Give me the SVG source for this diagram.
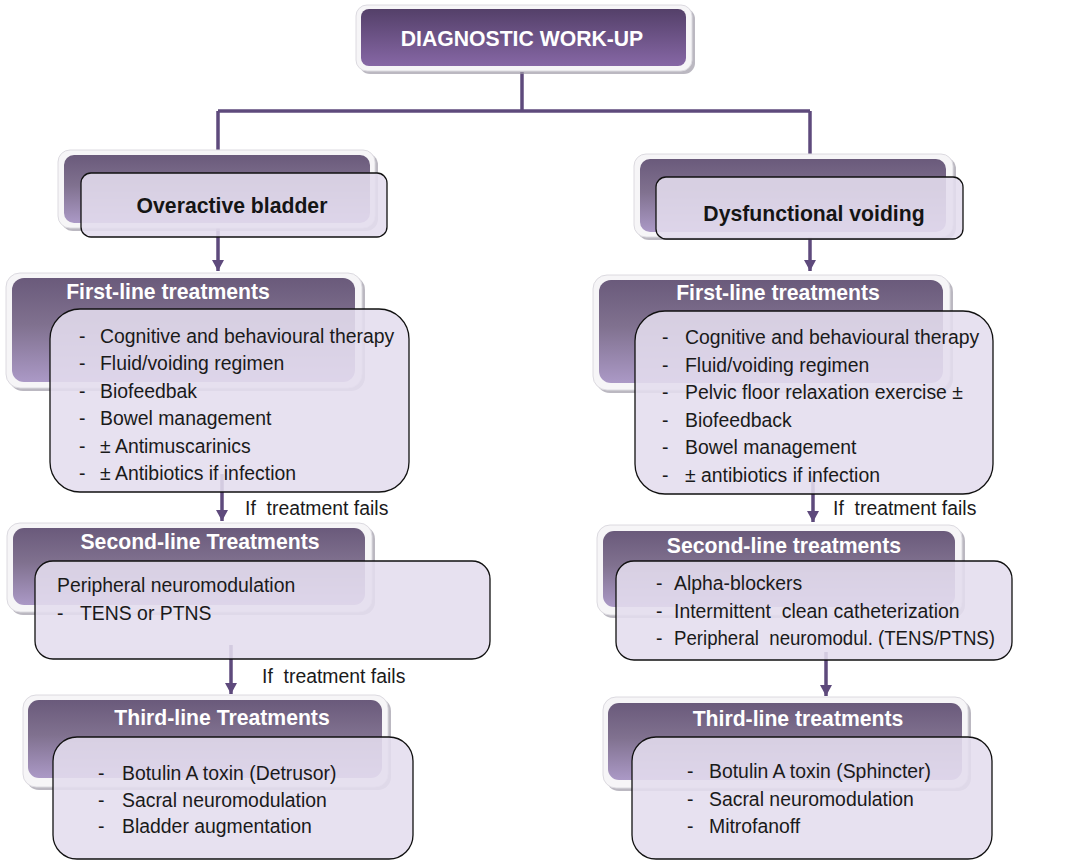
<svg xmlns="http://www.w3.org/2000/svg" width="1066" height="861" viewBox="0 0 1066 861">
  <style>
    .frame { fill: #f6f5f7; stroke: #dcdae0; stroke-width: 1; }
    .shadow { fill: #9e9aa6; opacity: 0.7; }
    .back { fill: url(#backGrad); }
    .top { fill: url(#topGrad); }
    .front { fill: #e4ddee; fill-opacity: 0.88; stroke: #111; stroke-width: 1.3; }
    .hdr { font-family: "Liberation Sans", Arial, sans-serif; font-weight: bold; font-size: 21.2px; fill: #ffffff; text-anchor: middle; }
    .title { font-family: "Liberation Sans", Arial, sans-serif; font-weight: bold; font-size: 21.2px; fill: #151515; text-anchor: middle; }
    .txt { font-family: "Liberation Sans", Arial, sans-serif; font-size: 19.4px; fill: #1a1a1a; white-space: pre; }
    .wire { fill: none; stroke: #5e4a7c; stroke-width: 3.5; }
    .arrow { fill: none; stroke: #5e4a7c; stroke-width: 3.5; marker-end: url(#head); }
  </style>
  <defs>
    <linearGradient id="backGrad" x1="0" y1="0" x2="0" y2="1">
      <stop offset="0" stop-color="#6a5a7b"/>
      <stop offset="0.45" stop-color="#80718f"/>
      <stop offset="1" stop-color="#ab99c6"/>
    </linearGradient>
    <linearGradient id="topGrad" x1="0" y1="0" x2="0" y2="1">
      <stop offset="0" stop-color="#544069"/>
      <stop offset="1" stop-color="#8667a5"/>
    </linearGradient>
    <marker id="head" markerUnits="userSpaceOnUse" markerWidth="12" markerHeight="12" refX="11" refY="6" orient="auto">
      <path d="M0,0 L11,6 L0,12 z" fill="#5e4a7c"/>
    </marker>
  </defs>

  <rect width="1066" height="861" fill="#ffffff"/>

  <!-- connectors -->
  <g id="connectors">
    <path class="wire" d="M522,72 V111"/>
    <path class="wire" d="M218,111 H810"/>
    <path class="wire" d="M218,111 V157"/>
    <path class="wire" d="M810,111 V157"/>
    <path class="arrow" d="M218,228 V271"/>
    <path class="arrow" d="M222,474 V521"/>
    <path class="arrow" d="M231,645 V694"/>
    <path class="arrow" d="M810,230 V271"/>
    <path class="arrow" d="M813,476 V522"/>
    <path class="arrow" d="M826,652 V696"/>
    <text class="txt" x="245" y="515">If  treatment fails</text>
    <text class="txt" x="262" y="683">If  treatment fails</text>
    <text class="txt" x="833" y="515">If  treatment fails</text>
  </g>

  <!-- root node -->
  <g id="diagnostic">
    <rect class="shadow" x="359" y="8" width="336" height="66" rx="11"/>
    <rect class="frame" x="356" y="5" width="336" height="66" rx="11"/>
    <rect class="top" x="361" y="9" width="325" height="57" rx="8"/>
    <text class="hdr" x="522" y="46">DIAGNOSTIC WORK-UP</text>
  </g>

  <!-- left branch -->
  <g id="overactive">
    <rect class="shadow" x="61" y="153" width="317" height="78" rx="12"/>
    <rect class="frame" x="58" y="150" width="317" height="78" rx="12"/>
    <rect class="back" x="64" y="155" width="306" height="68" rx="10"/>
    <rect class="front" x="81" y="173" width="306" height="64" rx="10"/>
    <text class="title" x="232" y="213">Overactive bladder</text>
  </g>

  <g id="first-line-left">
    <rect class="shadow" x="9" y="276" width="356" height="115" rx="14"/>
    <rect class="frame" x="6" y="273" width="356" height="115" rx="14"/>
    <rect class="back" x="12" y="278" width="343" height="104" rx="12"/>
    <text class="hdr" x="168" y="299">First-line treatments</text>
    <rect class="front" x="50" y="309" width="359" height="183" rx="30"/>
    <text class="txt" y="343"><tspan x="79">-</tspan><tspan x="100">Cognitive and behavioural therapy</tspan></text>
    <text class="txt" y="370"><tspan x="79">-</tspan><tspan x="100">Fluid/voiding regimen</tspan></text>
    <text class="txt" y="398"><tspan x="79">-</tspan><tspan x="100">Biofeedbak</tspan></text>
    <text class="txt" y="425"><tspan x="79">-</tspan><tspan x="100">Bowel management</tspan></text>
    <text class="txt" y="453"><tspan x="79">-</tspan><tspan x="100">± Antimuscarinics</tspan></text>
    <text class="txt" y="480"><tspan x="79">-</tspan><tspan x="100">± Antibiotics if infection</tspan></text>
  </g>

  <g id="second-line-left">
    <rect class="shadow" x="10" y="526" width="365" height="89" rx="13"/>
    <rect class="frame" x="7" y="523" width="365" height="89" rx="13"/>
    <rect class="back" x="13" y="528" width="352" height="77" rx="11"/>
    <text class="hdr" x="200" y="549">Second-line Treatments</text>
    <rect class="front" x="35" y="561" width="455" height="98" rx="18"/>
    <text class="txt" x="57" y="592">Peripheral neuromodulation</text>
    <text class="txt" y="620"><tspan x="57">-</tspan><tspan x="80">TENS or PTNS</tspan></text>
  </g>

  <g id="third-line-left">
    <rect class="shadow" x="26" y="698" width="365" height="92" rx="13"/>
    <rect class="frame" x="23" y="695" width="365" height="92" rx="13"/>
    <rect class="back" x="28" y="700" width="354" height="78" rx="11"/>
    <text class="hdr" x="222" y="725">Third-line Treatments</text>
    <rect class="front" x="53" y="737" width="360" height="122" rx="24"/>
    <text class="txt" y="780"><tspan x="98">-</tspan><tspan x="122">Botulin A toxin (Detrusor)</tspan></text>
    <text class="txt" y="807"><tspan x="98">-</tspan><tspan x="122">Sacral neuromodulation</tspan></text>
    <text class="txt" y="833"><tspan x="98">-</tspan><tspan x="122">Bladder augmentation</tspan></text>
  </g>

  <!-- right branch -->
  <g id="dysfunctional">
    <rect class="shadow" x="637" y="157" width="319" height="83" rx="12"/>
    <rect class="frame" x="634" y="154" width="319" height="83" rx="12"/>
    <rect class="back" x="640" y="159" width="306" height="73" rx="10"/>
    <rect class="front" x="656" y="177" width="307" height="62" rx="10"/>
    <text class="title" x="814" y="221">Dysfunctional voiding</text>
  </g>

  <g id="first-line-right">
    <rect class="shadow" x="596" y="278" width="357" height="115" rx="14"/>
    <rect class="frame" x="593" y="275" width="357" height="115" rx="14"/>
    <rect class="back" x="599" y="280" width="344" height="103" rx="12"/>
    <text class="hdr" x="778" y="300">First-line treatments</text>
    <rect class="front" x="635" y="311" width="358" height="183" rx="30"/>
    <text class="txt" y="344"><tspan x="662">-</tspan><tspan x="685">Cognitive and behavioural therapy</tspan></text>
    <text class="txt" y="372"><tspan x="662">-</tspan><tspan x="685">Fluid/voiding regimen</tspan></text>
    <text class="txt" y="399"><tspan x="662">-</tspan><tspan x="685">Pelvic floor relaxation exercise ±</tspan></text>
    <text class="txt" y="427"><tspan x="662">-</tspan><tspan x="685">Biofeedback</tspan></text>
    <text class="txt" y="454"><tspan x="662">-</tspan><tspan x="685">Bowel management</tspan></text>
    <text class="txt" y="482"><tspan x="662">-</tspan><tspan x="685">± antibiotics if infection</tspan></text>
  </g>

  <g id="second-line-right">
    <rect class="shadow" x="600" y="528" width="365" height="90" rx="13"/>
    <rect class="frame" x="597" y="525" width="365" height="90" rx="13"/>
    <rect class="back" x="603" y="531" width="352" height="76" rx="11"/>
    <text class="hdr" x="784" y="553">Second-line treatments</text>
    <rect class="front" x="616" y="561" width="396" height="99" rx="18"/>
    <text class="txt" y="590"><tspan x="656">-</tspan><tspan x="674">Alpha-blockers</tspan></text>
    <text class="txt" y="618"><tspan x="656">-</tspan><tspan x="674">Intermittent  clean catheterization</tspan></text>
    <text class="txt" x="656" y="645">-</text>
    <text class="txt" x="674" y="645" textLength="321" lengthAdjust="spacingAndGlyphs">Peripheral  neuromodul. (TENS/PTNS)</text>
  </g>

  <g id="third-line-right">
    <rect class="shadow" x="606" y="700" width="365" height="91" rx="13"/>
    <rect class="frame" x="603" y="697" width="365" height="91" rx="13"/>
    <rect class="back" x="608" y="703" width="354" height="77" rx="11"/>
    <text class="hdr" x="798" y="726">Third-line treatments</text>
    <rect class="front" x="632" y="737" width="360" height="122" rx="24"/>
    <text class="txt" y="778"><tspan x="687">-</tspan><tspan x="709">Botulin A toxin (Sphincter)</tspan></text>
    <text class="txt" y="806"><tspan x="687">-</tspan><tspan x="709">Sacral neuromodulation</tspan></text>
    <text class="txt" y="833"><tspan x="687">-</tspan><tspan x="709">Mitrofanoff</tspan></text>
  </g>
</svg>
